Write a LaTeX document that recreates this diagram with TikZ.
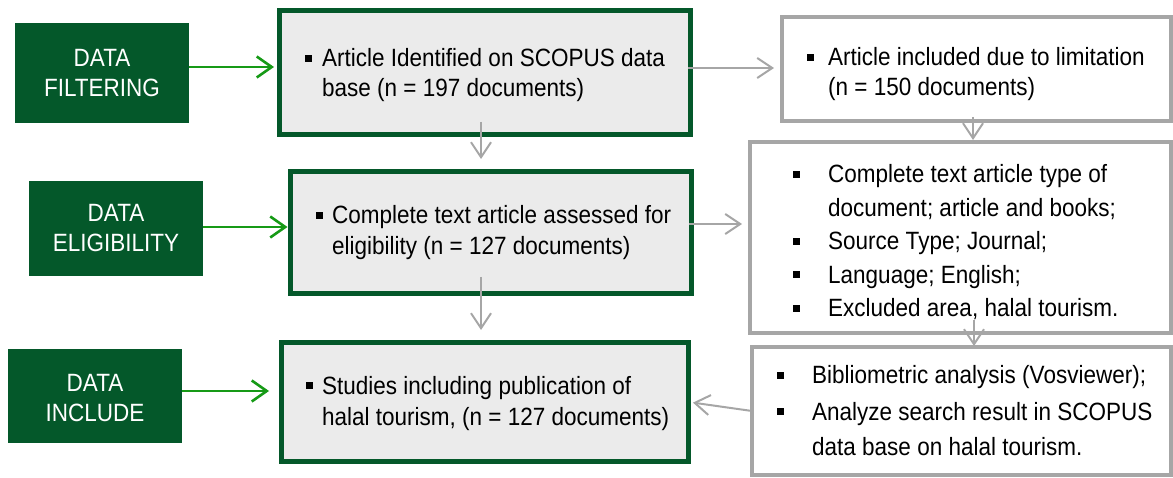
\documentclass[tikz,border=0pt]{standalone}
\usepackage{fontspec}
\setmainfont{Liberation Sans}[FakeStretch=0.9]
\usetikzlibrary{arrows.meta,calc}
\definecolor{dkgreen}{HTML}{04582A}
\definecolor{argreen}{HTML}{169A16}
\definecolor{lgray}{HTML}{A6A6A6}
\definecolor{boxfill}{HTML}{EBEBEB}
\newcommand{\bl}{\rule[5pt]{7pt}{7pt}}
\begin{document}
\begin{tikzpicture}[x=1pt,y=-1pt,
 stagebox/.style={fill=dkgreen, draw=none, inner sep=0, outer sep=0, minimum width=174pt},
 mainbox/.style={draw=dkgreen, line width=5pt, fill=boxfill, inner sep=0, outer sep=0},
 sidebox/.style={draw=lgray, line width=4pt, fill=white, inner sep=0, outer sep=0},
 stagetxt/.style={text=white, inner sep=0, anchor=base, font=\fontsize{25}{30}\selectfont},
 bodytxt/.style={inner sep=0, anchor=base west},
 garr/.style={draw=argreen, line width=2.6pt, -{Straight Barb[length=15pt,width=21pt]}},
 gyarr/.style={draw=lgray, line width=2pt, -{Straight Barb[length=15pt,width=20pt]}},
]
\useasboundingbox (0,0) rectangle (1173,478);
\clip (0,0) rectangle (1173,478);

% stage boxes
\node[stagebox, minimum height=100pt] (f) at (102,73) {};
\node[stagebox, minimum height=95pt] (e) at (116,228.5) {};
\node[stagebox, minimum height=94pt] (inc) at (95,396) {};

% main boxes
\node[mainbox, minimum width=411pt, minimum height=124pt] (b1) at (485,72.5) {};
\node[mainbox, minimum width=401pt, minimum height=122pt] (b2) at (491,232.5) {};
\node[mainbox, minimum width=407pt, minimum height=119pt] (b3) at (485,402) {};

% side boxes
\node[sidebox, minimum width=389pt, minimum height=104pt] (r1) at (976.5,69) {};
\node[sidebox, minimum width=421pt, minimum height=191pt] (r2) at (960.5,237.5) {};
\node[sidebox, minimum width=419pt, minimum height=128pt] (r3) at (961.5,411) {};

% stage texts
\node[stagetxt] (fT) at (102,67) {\begin{tabular}[t]{@{}c@{}}DATA\\FILTERING\end{tabular}};
\node[stagetxt] (eT) at (116,222) {\begin{tabular}[t]{@{}c@{}}DATA\\ELIGIBILITY\end{tabular}};
\node[stagetxt] (iT) at (95,391) {\begin{tabular}[t]{@{}c@{}}DATA\\INCLUDE\end{tabular}};

% main texts
\node[bodytxt, font=\fontsize{25}{30}\selectfont] (t1) at (305,67)
 {\begin{tabular}[t]{@{}l@{}l@{}}\makebox[17pt][l]{\bl} & Article Identified on SCOPUS data\\ & base (n = 197 documents)\end{tabular}};
\node[bodytxt, font=\fontsize{25}{31}\selectfont] (t2) at (316,224)
 {\begin{tabular}[t]{@{}l@{}l@{}}\makebox[16pt][l]{\bl} & Complete text article assessed for\\ & eligibility (n = 127 documents)\end{tabular}};
\node[bodytxt, font=\fontsize{25}{32}\selectfont] (t3) at (306,394)
 {\begin{tabular}[t]{@{}l@{}l@{}}\makebox[16pt][l]{\bl} & Studies including publication of\\ & halal tourism, (n = 127 documents)\end{tabular}};

% side texts
\node[bodytxt, font=\fontsize{25}{30}\selectfont] (u1) at (807,66)
 {\begin{tabular}[t]{@{}l@{}l@{}}\makebox[21pt][l]{\bl} & Article included due to limitation\\ & (n = 150 documents)\end{tabular}};
\node[bodytxt, font=\fontsize{25}{33.5}\selectfont] (u2) at (793,183)
 {\begin{tabular}[t]{@{}l@{}l@{}}\makebox[35pt][l]{\bl} & Complete text article type of\\ & document; article and books;\\
 \makebox[35pt][l]{\bl} & Source Type; Journal;\\
 \makebox[35pt][l]{\bl} & Language; English;\\
 \makebox[35pt][l]{\bl} & Excluded area, halal tourism.\end{tabular}};
\node[bodytxt, font=\fontsize{25}{36}\selectfont] (u3) at (777,384)
 {\begin{tabular}[t]{@{}l@{}l@{}}\makebox[35pt][l]{\bl} & Bibliometric analysis (Vosviewer);\\
 \makebox[35pt][l]{\bl} & Analyze search result in SCOPUS\\ & data base on halal tourism.\end{tabular}};

% green connectors
\draw[garr, shorten >=5.5pt] ([yshift=6pt]f.east) -- ([yshift=6pt]f.east -| b1.west);
\draw[garr, shorten >=3pt] ([yshift=1.5pt]e.east) -- ([yshift=1.5pt]e.east -| b2.west);
\draw[garr, shorten >=12.5pt] ([yshift=5pt]inc.east) -- ([yshift=5pt]inc.east -| b3.west);

% gray connectors
\draw[gyarr, shorten <=-2.5pt, shorten >=8pt] ([yshift=4.5pt]b1.east) -- ([yshift=4.5pt]b1.east -| r1.west);
\draw[gyarr, shorten >=12.5pt] ([xshift=-4pt,yshift=12.5pt]b1.south) -- ([xshift=-4pt]b1.south |- b2.north);
\draw[gyarr, shorten <=-2.5pt, shorten >=8pt] ([yshift=8.5pt]b2.east) -- ([yshift=8.5pt]b2.east -| r2.west);
\draw[gyarr, shorten >=12.5pt] ([xshift=-10pt,yshift=16.5pt]b2.south) -- ([xshift=-10pt]b2.south |- b3.north);
\draw[gyarr, shorten >=2pt] ([xshift=-3.5pt,yshift=4pt]r1.south) -- ([xshift=-3.5pt]r1.south |- r2.north);
\draw[gyarr, shorten >=1pt] ([xshift=13.5pt,yshift=13pt]r2.south) -- ([xshift=13.5pt]r2.south |- r3.north);
\draw[gyarr, shorten >=4.5pt] (r3.west) -- (b3.east);
\end{tikzpicture}
\end{document}
